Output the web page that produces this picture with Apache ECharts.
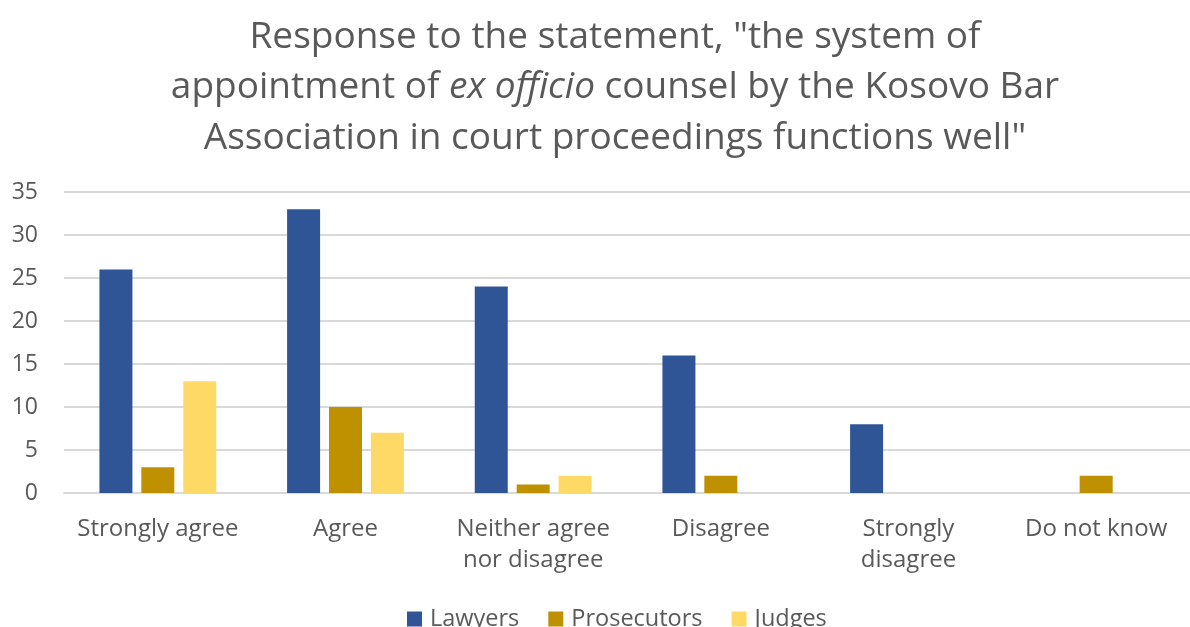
<!DOCTYPE html>
<html><head><meta charset="utf-8">
<script src="https://cdn.jsdelivr.net/npm/echarts@6/dist/echarts.min.js"></script>
<style>html,body{margin:0;padding:0;background:#fff}#c{width:1190px;height:627px}</style>
</head><body><div id="c"></div>
<script>
const categories = ["Strongly agree", "Agree", "Neither agree\nnor disagree", "Disagree", "Strongly\ndisagree", "Do not know"];
const lawyers = [26, 33, 24, 16, 8, 0];
const prosecutors = [3, 10, 1, 2, 0, 2];
const judges = [13, 7, 2, 0, 0, 0];
const yTicks = {min: 0, max: 35, interval: 5};

const chart = echarts.init(document.getElementById('c'));
const font = '"Open Sans", sans-serif';
chart.setOption({
  animation: false,
  textStyle: {fontFamily: font},
  title: {
    left: 610, top: 7, textAlign: 'center',
    text: 'Response to the statement, "the system of\nappointment of {i|ex officio} counsel by the Kosovo Bar\nAssociation in court proceedings functions well"',
    textStyle: {
      fontFamily: font, fontSize: 37, color: '#595959', fontWeight: 'normal', lineHeight: 50.5,
      rich: {i: {fontFamily: font, fontSize: 37, color: '#595959', fontStyle: 'italic', lineHeight: 50.5}}
    }
  },
  legend: {
    bottom: -9, left: 402, itemWidth: 15, itemHeight: 15, itemGap: 29,
    icon: 'rect',
    textStyle: {fontFamily: font, fontSize: 23.5, color: '#595959', padding: [0, 0, 0, 3]},
    data: ['Lawyers', 'Prosecutors', 'Judges']
  },
  grid: {left: 64, right: -10, top: 192, bottom: 134},
  xAxis: {
    type: 'category', data: categories,
    axisLine: {lineStyle: {color: '#d9d9d9', width: 2}},
    axisTick: {show: false},
    axisLabel: {fontFamily: font, fontSize: 24, color: '#595959', margin: 21, lineHeight: 31, interval: 0}
  },
  yAxis: {
    type: 'value', min: yTicks.min, max: yTicks.max, interval: yTicks.interval,
    axisLine: {show: false}, axisTick: {show: false},
    splitLine: {lineStyle: {color: '#d9d9d9', width: 2}},
    axisLabel: {fontFamily: font, fontSize: 23, color: '#595959', margin: 26}
  },
  series: [
    {name: 'Lawyers', type: 'bar', data: lawyers, itemStyle: {color: '#2F5597'}, barWidth: 33, barGap: '27%'},
    {name: 'Prosecutors', type: 'bar', data: prosecutors, itemStyle: {color: '#BF9000'}, barWidth: 33, barGap: '27%'},
    {name: 'Judges', type: 'bar', data: judges, itemStyle: {color: '#FFD966'}, barWidth: 33, barGap: '27%'}
  ]
});
</script></body></html>
